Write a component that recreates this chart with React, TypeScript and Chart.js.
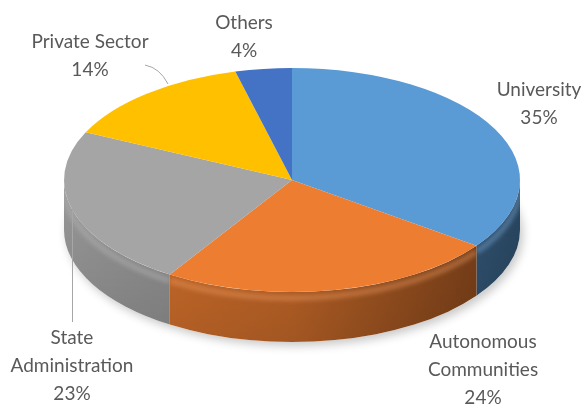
import React, { useEffect, useRef } from "react";
import { Chart, registerables } from "chart.js";

Chart.register(...registerables);

// ---- data ----
const categories = ["University", "Autonomous Communities", "State Administration", "Private Sector", "Others"];
const shares = [35, 24, 23, 14, 4];
const sliceColors = ["#5B9BD5", "#ED7D31", "#A5A5A5", "#FFC000", "#4472C4"];
const labelNameLines = [["University"], ["Autonomous", "Communities"], ["State", "Administration"], ["Private Sector"], ["Others"]];

// ---- layout ----
const W = 587;
const H = 405;
const CX = 292;
const CY = 180;
const RX = 228;
const RY = 112;
const DEPTH = 50;
const LINE_H = 28;
const LABEL_CENTERS: [number, number][] = [
  [539, 104],
  [483, 370],
  [72, 366],
  [90, 56],
  [244, 37],
];
const TEXT_COLOR = "#595959";
const FONT = "19px Lato";

function hexToRgb(h: string): [number, number, number] {
  const v = parseInt(h.slice(1), 16);
  return [(v >> 16) & 255, (v >> 8) & 255, v & 255];
}
function shade(h: string, f: number, a = 1): string {
  const [r, g, b] = hexToRgb(h);
  const c = (x: number) => Math.max(0, Math.min(255, Math.round(f >= 1 ? x + (255 - x) * (f - 1) : x * f)));
  return `rgba(${c(r)},${c(g)},${c(b)},${a})`;
}

const pie3d = {
  id: "pie3d",
  beforeDatasetsDraw(chart: any) {
    const meta = chart.getDatasetMeta(0);
    const arcs = meta.data as any[];
    if (!arcs.length) return;
    const ctx: CanvasRenderingContext2D = chart.ctx;

    // soft shadow under the pie body
    ctx.save();
    ctx.shadowColor = "rgba(0,0,0,0.22)";
    ctx.shadowBlur = 10;
    ctx.shadowOffsetX = 3;
    ctx.shadowOffsetY = 4;
    ctx.fillStyle = "#ffffff";
    ctx.beginPath();
    ctx.ellipse(CX, CY + DEPTH, RX, RY, 0, 0, Math.PI * 2);
    ctx.fill();
    ctx.restore();

    // side walls (front half)
    arcs.forEach((arc, i) => {
      const { startAngle, endAngle } = arc.getProps(["startAngle", "endAngle"], true);
      const a0 = Math.max(startAngle, 0);
      const a1 = Math.min(endAngle, Math.PI);
      if (a1 <= a0) return;
      const col = sliceColors[i];
      const g = ctx.createLinearGradient(CX - RX, 0, CX + RX, 0);
      g.addColorStop(0, shade(col, 0.9));
      g.addColorStop(0.5, shade(col, 0.78));
      g.addColorStop(1, shade(col, 0.45));
      ctx.save();
      ctx.beginPath();
      ctx.ellipse(CX, CY, RX, RY, 0, a0, a1, false);
      ctx.ellipse(CX, CY + DEPTH, RX, RY, 0, a1, a0, true);
      ctx.closePath();
      ctx.fillStyle = g;
      ctx.fill();
      ctx.clip();
      // vertical darkening toward bottom
      const gv = ctx.createLinearGradient(0, CY + RY * 0.2, 0, CY + RY + DEPTH);
      gv.addColorStop(0, "rgba(0,0,0,0)");
      gv.addColorStop(1, "rgba(0,0,0,0.12)");
      ctx.fillStyle = gv;
      ctx.fill();
      // soft rim highlight just under the top edge
      ctx.filter = "blur(2px)";
      ctx.beginPath();
      ctx.ellipse(CX, CY + 6, RX, RY, 0, a0, a1, false);
      ctx.strokeStyle = shade(col, 1.25, 0.4);
      ctx.lineWidth = 6;
      ctx.stroke();
      ctx.filter = "none";
      ctx.restore();
    });

    // squash the chart's own circular pie into the ellipse of the top face
    const { x, y, outerRadius } = arcs[0].getProps(["x", "y", "outerRadius"], true);
    ctx.save();
    ctx.translate(CX, CY);
    ctx.scale(RX / outerRadius, RY / outerRadius);
    ctx.translate(-x, -y);
  },
  afterDatasetsDraw(chart: any) {
    chart.ctx.restore();
  },
  afterDraw(chart: any) {
    const ctx: CanvasRenderingContext2D = chart.ctx;
    ctx.save();
    // leader lines
    ctx.strokeStyle = "#A6A6A6";
    ctx.lineWidth = 1;
    ctx.beginPath();
    ctx.moveTo(145, 65);
    ctx.quadraticCurveTo(160, 68, 168, 84);
    ctx.stroke();
    ctx.beginPath();
    ctx.moveTo(72.5, 206);
    ctx.lineTo(72.5, 322);
    ctx.stroke();

    ctx.fillStyle = TEXT_COLOR;
    ctx.font = FONT;
    ctx.textAlign = "center";
    ctx.textBaseline = "middle";
    categories.forEach((_, i) => {
      const lines = [...labelNameLines[i], `${shares[i]}%`];
      const [lx, ly] = LABEL_CENTERS[i];
      const top = ly - ((lines.length - 1) * LINE_H) / 2;
      lines.forEach((t, k) => ctx.fillText(t, lx, top + k * LINE_H));
    });
    ctx.restore();
  },
};

export default function App() {
  const ref = useRef<HTMLCanvasElement | null>(null);
  useEffect(() => {
    document.body.style.margin = "0";
    document.body.style.background = "#ffffff";
    const cv = ref.current;
    if (!cv) return;
    const chart = new Chart(cv, {
      type: "pie",
      data: {
        labels: categories,
        datasets: [
          {
            data: shares,
            backgroundColor: sliceColors,
            borderWidth: 0,
            clip: false as any,
          },
        ],
      },
      options: {
        responsive: false,
        animation: false,
        events: [],
        layout: { padding: 0 },
        plugins: {
          legend: { display: false },
          tooltip: { enabled: false },
          title: { display: false },
        },
      },
      plugins: [pie3d as any],
    });
    return () => chart.destroy();
  }, []);
  return (
    <div style={{ width: W, height: H, background: "#fff" }}>
      <canvas ref={ref} width={W} height={H} style={{ display: "block" }} />
    </div>
  );
}
